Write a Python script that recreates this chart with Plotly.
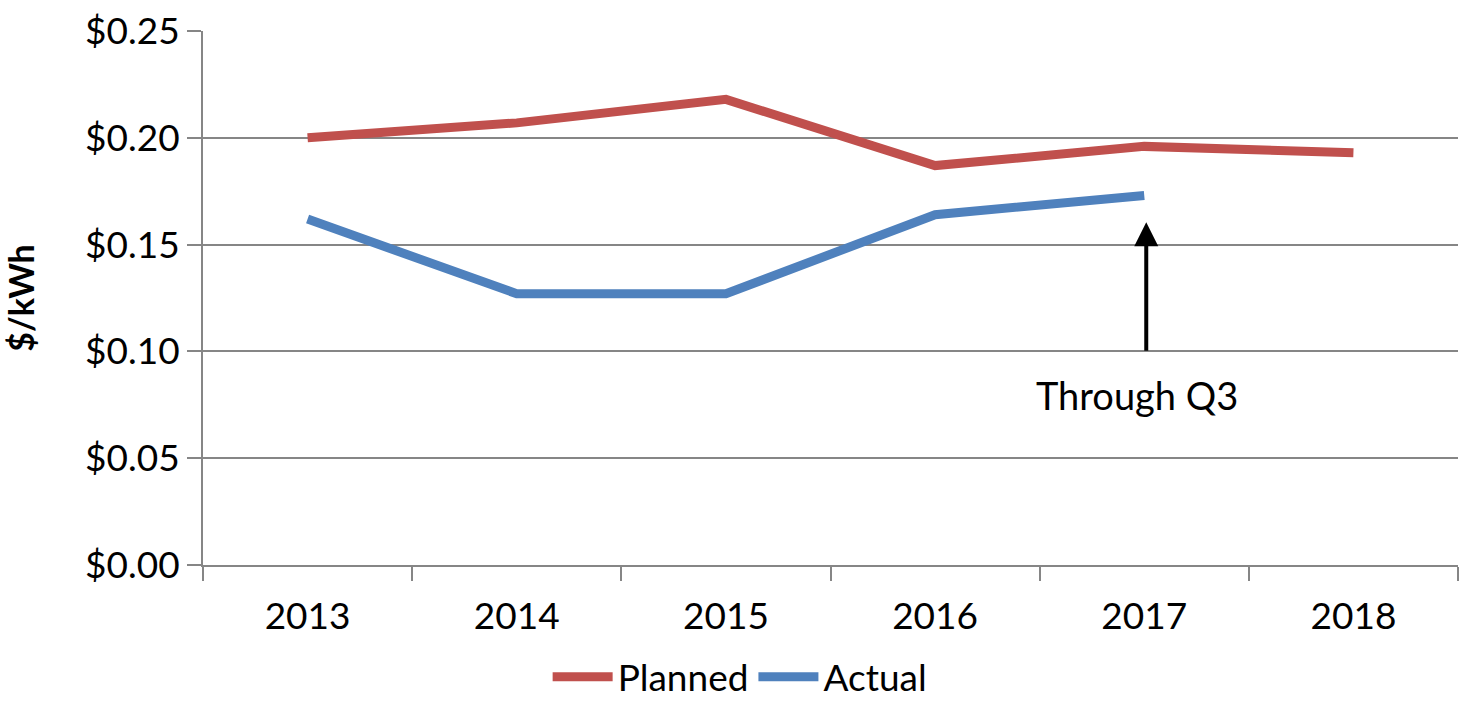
import plotly.graph_objects as go

years = ["2013", "2014", "2015", "2016", "2017", "2018"]
planned = [0.200, 0.207, 0.218, 0.187, 0.196, 0.193]
actual_years = ["2013", "2014", "2015", "2016", "2017"]
actual = [0.162, 0.127, 0.127, 0.164, 0.173]
y_ticks = [0, 0.05, 0.10, 0.15, 0.20, 0.25]
y_ticktext = ["$0.00", "$0.05", "$0.10", "$0.15", "$0.20", "$0.25"]
note_index = actual_years.index("2017")

FONT = "Lato, Open Sans, sans-serif"

fig = go.Figure()
fig.add_trace(go.Scatter(x=years, y=planned, mode="lines", name="Planned",
                         line=dict(color="#C0504D", width=9)))
fig.add_trace(go.Scatter(x=actual_years, y=actual, mode="lines", name="Actual",
                         line=dict(color="#4F81BD", width=9)))

fig.add_annotation(x=note_index, y=0.1605, xref="x", yref="y", text="",
                   showarrow=True, ax=0, ay=130, axref="pixel", ayref="pixel",
                   arrowhead=2, arrowsize=1.2, arrowwidth=4, arrowcolor="black",
                   xshift=2)
fig.add_annotation(x=note_index, y=0.0796, xref="x", yref="y", text="Through Q3",
                   showarrow=False, xshift=-7,
                   font=dict(family=FONT, size=38, color="black"))

fig.update_layout(
    width=1460, height=710,
    margin=dict(l=203, r=2, t=31, b=145),
    paper_bgcolor="white", plot_bgcolor="white",
    font=dict(family=FONT, size=37, color="black"),
    showlegend=True,
    legend=dict(orientation="h", x=0.428, xanchor="center",
                y=-0.268, yanchor="bottom", font=dict(size=37),
                itemwidth=60, tracegroupgap=0),
    xaxis=dict(type="category", range=[-0.5, 5.5], tickson="boundaries",
               ticks="outside", ticklen=14, tickcolor="#868686", tickwidth=2,
               showline=True, linecolor="#868686", linewidth=2, automargin=False,
               showgrid=False, tickfont=dict(size=37), ticklabelstandoff=18,
               tickangle=0),
    yaxis=dict(range=[0, 0.25002], tickvals=y_ticks, ticktext=y_ticktext,
               ticks="outside", ticklen=14, tickcolor="#868686", tickwidth=2,
               showline=True, linecolor="#868686", linewidth=2, automargin=False,
               showgrid=True, gridcolor="#868686", gridwidth=1.5,
               zeroline=False, tickfont=dict(size=37),
               title=dict(text="<b>$/kWh</b>", font=dict(size=34), standoff=42)),
)

fig.write_html("out.html", config={"displayModeBar": False},
               post_script="document.body.style.margin='0';"
                           "document.body.style.overflow='hidden';")
